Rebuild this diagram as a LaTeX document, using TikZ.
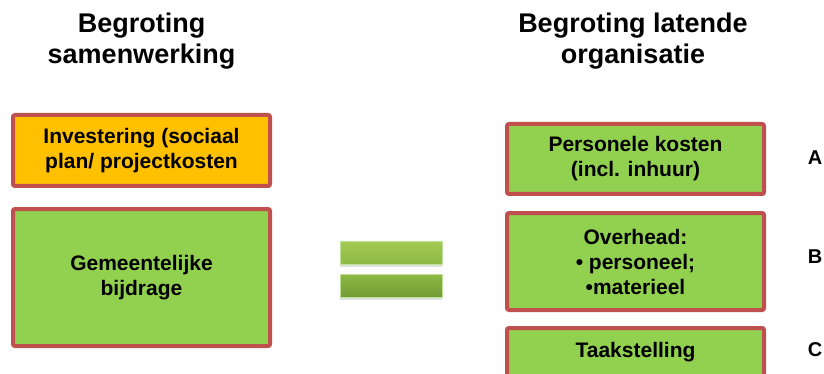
\documentclass[tikz,border=0pt]{standalone}
\usepackage{fontspec}
\setmainfont{Liberation Sans}
\usetikzlibrary{shadows}
\definecolor{boxred}{HTML}{C0504D}
\definecolor{boxgreen}{HTML}{92D050}
\definecolor{boxorange}{HTML}{FFC000}
\definecolor{balklicht}{HTML}{A3CB55}
\definecolor{balkmidden}{HTML}{8DB944}
\definecolor{balkdonker}{HTML}{739C34}
\tikzset{
every node/.style={inner sep=0pt, align=center, font=\bfseries\fontsize{21}{25}\selectfont},
kop/.style={font=\bfseries\fontsize{27}{31}\selectfont},
post/.style={rectangle, draw=boxred, line width=4pt, rounded corners=2pt, fill=boxgreen, minimum width=257pt},
letter/.style={font=\bfseries\fontsize{20}{24}\selectfont},
balk/.style={rectangle, draw=boxgreen!60!white, line width=0.6pt, minimum width=102pt, minimum height=23pt,
  drop shadow={shadow xshift=0pt, shadow yshift=-3pt, opacity=0.25}}
}
\begin{document}
\begin{tikzpicture}[x=1pt, y=-1pt]
\useasboundingbox (0,0) rectangle (824,374);
\clip (0,0) rectangle (824,374);

\node[kop] (links) at (141.5,41) {Begroting\\samenwerking};
\node[kop] (rechts) at (633,41) {Begroting latende\\organisatie};

\node[post, fill=boxorange, minimum height=71pt] (invest) at (141.5,150.5) {Investering (sociaal\\plan/ projectkosten};
\node[post, minimum height=137pt] (bijdrage) at (141.5,277.5) {Gemeentelijke\\bijdrage};

\node[balk, top color=balklicht, bottom color=balkmidden] (is1) at (391,252.5) {};
\node[balk, top color=balkmidden, bottom color=balkdonker] (is2) at (391,285.5) {};

\node[post, minimum height=70pt] (personeel) at (635.5,159) {Personele kosten\\(incl. inhuur)};
\node[post, minimum height=97pt] (overhead) at (635.5,261.5) {Overhead:\\• personeel;\\•materieel};
\node[post, minimum height=48pt] (taak) at (635.5,352) {Taakstelling};

\node[letter] (a) at (815,158) {A};
\node[letter] (b) at (815,257) {B};
\node[letter] (c) at (815,350) {C};
\end{tikzpicture}
\end{document}
